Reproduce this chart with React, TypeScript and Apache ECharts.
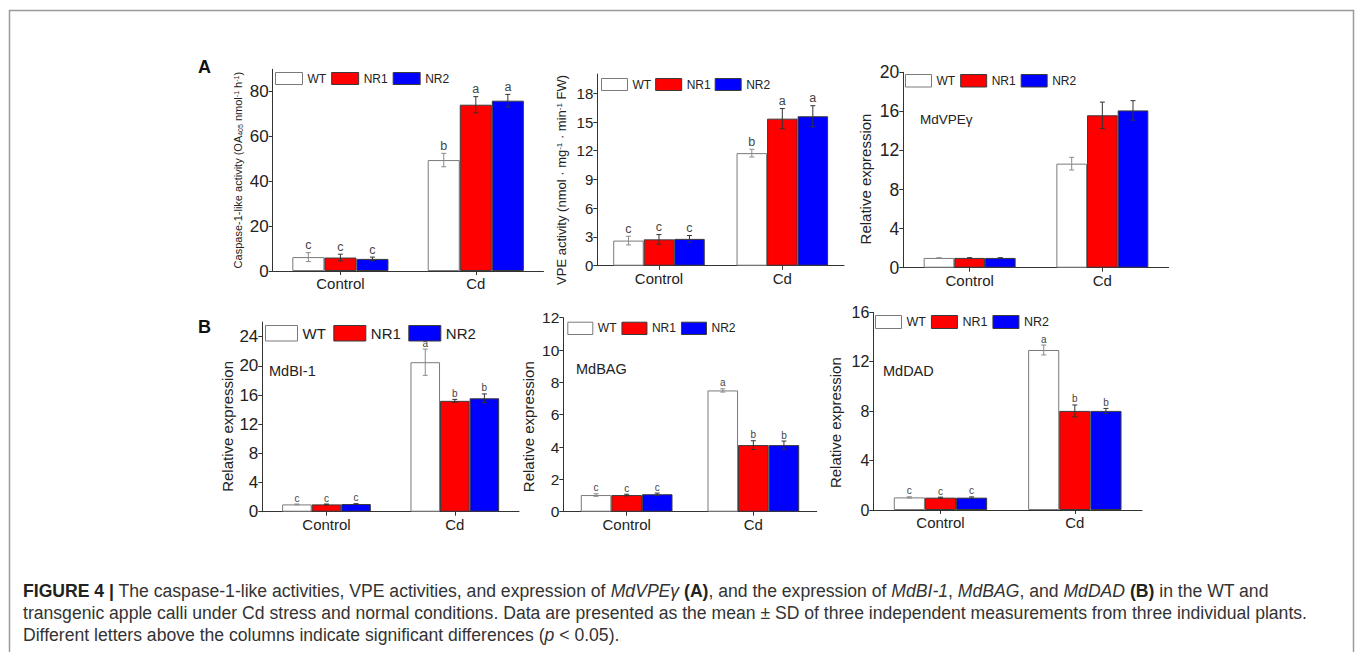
import React, { useEffect, useRef } from 'react';
import * as echarts from 'echarts';

const FONT = "'Liberation Sans', Arial, Helvetica, sans-serif";

const categories = ['Control', 'Cd'];
const groups = ['WT', 'NR1', 'NR2'];

// A: caspase-1-like activity
const caspaseWT = [6.2, 49.5];
const caspaseWTsd = [2.0, 3.0];
const caspaseNR1 = [6.0, 74.2];
const caspaseNR1sd = [1.5, 3.6];
const caspaseNR2 = [5.4, 76.0];
const caspaseNR2sd = [0.8, 2.8];
const caspaseLetters = [['c', 'b'], ['c', 'a'], ['c', 'a']];

// A: VPE activity
const vpeWT = [2.62, 11.75];
const vpeWTsd = [0.45, 0.4];
const vpeNR1 = [2.75, 15.35];
const vpeNR1sd = [0.5, 1.05];
const vpeNR2 = [2.8, 15.6];
const vpeNR2sd = [0.35, 1.1];
const vpeLetters = [['c', 'b'], ['c', 'a'], ['c', 'a']];

// A: MdVPEγ relative expression
const vpegWT = [1.0, 10.65];
const vpegWTsd = [0.02, 0.65];
const vpegNR1 = [1.0, 15.6];
const vpegNR1sd = [0.02, 1.35];
const vpegNR2 = [1.0, 16.1];
const vpegNR2sd = [0.02, 1.0];
const vpegLetters = [['', ''], ['', ''], ['', '']];

// B: MdBI-1
const bi1WT = [1.0, 20.5];
const bi1WTsd = [0.05, 1.8];
const bi1NR1 = [1.0, 15.2];
const bi1NR1sd = [0.05, 0.2];
const bi1NR2 = [1.05, 15.55];
const bi1NR2sd = [0.05, 0.6];
const bi1Letters = [['c', 'a'], ['c', 'b'], ['c', 'b']];

// B: MdBAG
const bagWT = [1.03, 7.5];
const bagWTsd = [0.08, 0.1];
const bagNR1 = [1.03, 4.12];
const bagNR1sd = [0.05, 0.27];
const bagNR2 = [1.08, 4.12];
const bagNR2sd = [0.07, 0.25];
const bagLetters = [['c', 'a'], ['c', 'b'], ['c', 'b']];

// B: MdDAD
const dadWT = [1.02, 12.95];
const dadWTsd = [0.05, 0.4];
const dadNR1 = [1.0, 8.02];
const dadNR1sd = [0.04, 0.48];
const dadNR2 = [1.0, 8.02];
const dadNR2sd = [0.06, 0.2];
const dadLetters = [['c', 'a'], ['c', 'b'], ['c', 'b']];

const captionLines = [
  '{b|FIGURE 4 |} The caspase-1-like activities, VPE activities, and expression of {i|MdVPEγ} {b|(A)}, and the expression of {i|MdBI-1}, {i|MdBAG}, and {i|MdDAD} {b|(B)} in the WT and',
  'transgenic apple calli under Cd stress and normal conditions. Data are presented as the mean ± SD of three independent measurements from three individual plants.',
  'Different letters above the columns indicate significant differences ({i|p} < 0.05).',
];

const panels = [
  {
    grid: { left: 272.7, top: 69.3, width: 270.8, height: 201.7 },
    max: 90, interval: 20, hideMax: true, gap: 29, tickFont: 17,
    name: 'Caspase-1-like activity (OA{sub|405} nmol{sup|-1} h{sup|-1})', nameSize: 11, nameGap: 29, shift: 0,
    legend: { left: 275, top: 72, w: 27, h: 12, gap: 5, font: 12 },
    letterSize: 12.5,
    means: [caspaseWT, caspaseNR1, caspaseNR2], sds: [caspaseWTsd, caspaseNR1sd, caspaseNR2sd], letters: caspaseLetters,
    gene: '',
  },
  {
    grid: { left: 597.3, top: 74.1, width: 246.7, height: 191.6 },
    max: 20, interval: 3, hideMax: true, gap: 25.8, tickFont: 15,
    name: 'VPE activity (nmol · mg{sup|-1} · min{sup|-1} FW)', nameSize: 13, nameGap: 29, shift: 10,
    legend: { left: 601, top: 78, w: 26, h: 12, gap: 4, font: 12 },
    letterSize: 12.5,
    means: [vpeWT, vpeNR1, vpeNR2], sds: [vpeWTsd, vpeNR1sd, vpeNR2sd], letters: vpeLetters,
    gene: '',
  },
  {
    grid: { left: 903.3, top: 72.3, width: 265.4, height: 195.4 },
    max: 20, interval: 4, hideMax: false, gap: 30.7, tickFont: 17.5,
    name: 'Relative expression', nameSize: 15, nameGap: 30, shift: 9,
    legend: { left: 905, top: 74, w: 26, h: 12.5, gap: 5, font: 12 },
    letterSize: 12,
    means: [vpegWT, vpegNR1, vpegNR2], sds: [vpegWTsd, vpegNR1sd, vpegNR2sd], letters: vpegLetters,
    gene: 'MdVPEγ', geneX: 920, geneY: 120, geneSize: 13.5,
  },
  {
    grid: { left: 262.3, top: 322.1, width: 256.7, height: 189.6 },
    max: 26, interval: 4, hideMax: true, gap: 30.9, tickFont: 17,
    name: 'Relative expression', nameSize: 15, nameGap: 27.5, shift: 9.5,
    legend: { left: 265, top: 325, w: 32, h: 15.5, gap: 7.5, font: 15 },
    letterSize: 10,
    means: [bi1WT, bi1NR1, bi1NR2], sds: [bi1WTsd, bi1NR1sd, bi1NR2sd], letters: bi1Letters,
    gene: 'MdBI-1', geneX: 269, geneY: 372, geneSize: 14.5,
  },
  {
    grid: { left: 563.3, top: 317.7, width: 253.4, height: 194 },
    max: 12, interval: 2, hideMax: false, gap: 27.6, tickFont: 15.5,
    name: 'Relative expression', nameSize: 15, nameGap: 27, shift: 12,
    legend: { left: 567.3, top: 321.7, w: 25, h: 12.3, gap: 5, font: 12 },
    letterSize: 10,
    means: [bagWT, bagNR1, bagNR2], sds: [bagWTsd, bagNR1sd, bagNR2sd], letters: bagLetters,
    gene: 'MdBAG', geneX: 576, geneY: 370, geneSize: 14.5,
  },
  {
    grid: { left: 873.3, top: 312.3, width: 268.7, height: 197.7 },
    max: 16, interval: 4, hideMax: false, gap: 30.5, tickFont: 16,
    name: 'Relative expression', nameSize: 15, nameGap: 30, shift: 11.5,
    legend: { left: 875, top: 315, w: 26, h: 13, gap: 5, font: 12.5 },
    letterSize: 10,
    means: [dadWT, dadNR1, dadNR2], sds: [dadWTsd, dadNR1sd, dadNR2sd], letters: dadLetters,
    gene: 'MdDAD', geneX: 883, geneY: 372, geneSize: 14.5,
  },
];

const barStyles = [
  { color: '#ffffff', borderColor: '#7a7a7a', borderWidth: 1 },
  { color: '#ff0000', borderColor: '#3a3a3a', borderWidth: 1 },
  { color: '#0000ff', borderColor: '#3a3a3a', borderWidth: 1 },
];
const errColors = ['#8a8a8a', '#333333', '#333333'];

function buildOption() {
  const grid: any[] = [];
  const xAxis: any[] = [];
  const yAxis: any[] = [];
  const legend: any[] = [];
  const series: any[] = [];
  const graphic: any[] = [];

  panels.forEach((p, gi) => {
    grid.push({ ...p.grid, containLabel: false });
    xAxis.push({
      type: 'category', gridIndex: gi, data: categories,
      axisLine: { show: true, lineStyle: { color: '#333', width: 1 } },
      axisTick: { show: true, alignWithLabel: true, length: 4, lineStyle: { color: '#333' } },
      axisLabel: { fontSize: 15, margin: 5, color: '#222', fontFamily: FONT },
      splitLine: { show: false },
    });
    yAxis.push({
      type: 'value', gridIndex: gi, min: 0, max: p.max, interval: p.interval,
      axisLine: { show: true, lineStyle: { color: '#333', width: 1 } },
      axisTick: { show: true, length: 4, lineStyle: { color: '#333' } },
      axisLabel: { fontSize: p.tickFont, margin: 4, color: '#222', fontFamily: FONT, showMaxLabel: !p.hideMax },
      splitLine: { show: false },
      name: p.name, nameLocation: 'middle', nameGap: p.nameGap,
      nameTextStyle: {
        fontSize: p.nameSize, color: '#222', fontFamily: FONT,
        padding: [0, p.shift * 2, 0, 0],
        rich: {
          sup: { fontSize: Math.round(p.nameSize * 0.65), verticalAlign: 'top', fontFamily: FONT, color: '#222' },
          sub: { fontSize: Math.round(p.nameSize * 0.65), verticalAlign: 'bottom', fontFamily: FONT, color: '#222' },
        },
      },
    });
    legend.push({
      left: p.legend.left, top: p.legend.top, orient: 'horizontal', padding: 0,
      itemWidth: p.legend.w, itemHeight: p.legend.h, itemGap: p.legend.gap,
      selectedMode: false,
      textStyle: { fontSize: p.legend.font, color: '#222', fontFamily: FONT },
      data: groups.map((n, k) => ({ name: n, icon: 'rect', itemStyle: barStyles[k] })),
    });
    const gapFrac = p.gap / 100;
    groups.forEach((g, k) => {
      series.push({
        type: 'bar', name: g, xAxisIndex: gi, yAxisIndex: gi,
        data: p.means[k], barGap: '0%', barCategoryGap: p.gap + '%',
        itemStyle: barStyles[k], emphasis: { disabled: true },
      });
    });
    groups.forEach((g, k) => {
      const means = p.means[k];
      const sds = p.sds[k];
      const letters = p.letters[k];
      series.push({
        type: 'custom', xAxisIndex: gi, yAxisIndex: gi, z: 5,
        encode: { x: 0, y: 1 },
        data: categories.map((_, i) => [i, means[i], sds[i]]),
        renderItem: (params: any, api: any) => {
          const ci = api.value(0);
          const v = api.value(1);
          const sd = api.value(2);
          const band = api.size([1, 0])[0];
          const barW = (band * (1 - gapFrac)) / 3;
          const cx = api.coord([ci, v])[0] + (k - 1) * barW;
          const yTop = api.coord([ci, v + sd])[1];
          const yBot = api.coord([ci, v - sd])[1];
          const cap = 2.5;
          const stroke = errColors[k];
          const children: any[] = [
            { type: 'line', shape: { x1: cx, y1: yTop, x2: cx, y2: yBot }, style: { stroke, lineWidth: 1 } },
            { type: 'line', shape: { x1: cx - cap, y1: yTop, x2: cx + cap, y2: yTop }, style: { stroke, lineWidth: 1 } },
            { type: 'line', shape: { x1: cx - cap, y1: yBot, x2: cx + cap, y2: yBot }, style: { stroke, lineWidth: 1 } },
          ];
          const letter = letters[params.dataIndex];
          if (letter) {
            children.push({
              type: 'text', x: cx, y: yTop - 1,
              style: { text: letter, align: 'center', verticalAlign: 'bottom', fontSize: p.letterSize, fontFamily: FONT, fill: '#444' },
            });
          }
          return { type: 'group', children };
        },
      });
    });
    if (p.gene) {
      graphic.push({
        type: 'text', left: p.geneX, top: (p.geneY as number) - (p.geneSize as number) / 2 - 1,
        style: { text: p.gene, fontSize: p.geneSize, fontFamily: FONT, fill: '#222' },
      });
    }
  });

  graphic.push({
    type: 'rect', silent: true, z: -10,
    shape: { x: 9.5, y: 10.5, width: 1344, height: 700 },
    style: { fill: 'none', stroke: '#9a9a9a', lineWidth: 1.5 },
  });
  graphic.push({ type: 'text', left: 198, top: 58, style: { text: 'A', fontSize: 18, fontWeight: 'bold', fontFamily: FONT, fill: '#111' } });
  graphic.push({ type: 'text', left: 198, top: 318, style: { text: 'B', fontSize: 18, fontWeight: 'bold', fontFamily: FONT, fill: '#111' } });

  const capY = [593, 615, 637];
  const capSize = 17.6;
  captionLines.forEach((line, i) => {
    graphic.push({
      type: 'text', left: 23, top: capY[i] - capSize * 0.6,
      style: {
        text: line, fontSize: capSize, fontFamily: FONT, fill: '#333',
        rich: {
          b: { fontWeight: 'bold', fontSize: capSize, fontFamily: FONT, fill: '#222' },
          i: { fontStyle: 'italic', fontSize: capSize, fontFamily: FONT, fill: '#333' },
        },
      },
    });
  });

  return {
    animation: false,
    backgroundColor: '#ffffff',
    grid, xAxis, yAxis, legend, series, graphic,
  };
}

export default function App() {
  const ref = useRef<HTMLDivElement>(null);
  useEffect(() => {
    if (!ref.current) return;
    const chart = echarts.init(ref.current, undefined, { renderer: 'svg' });
    chart.setOption(buildOption() as any);
    return () => chart.dispose();
  }, []);
  return (
    <div
      ref={ref}
      style={{ position: 'fixed', left: 0, top: 0, width: 1355, height: 652, background: '#fff' }}
    />
  );
}
